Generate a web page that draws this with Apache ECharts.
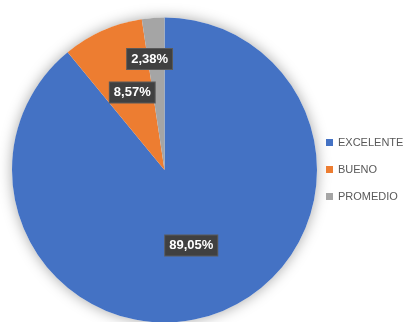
<!DOCTYPE html>
<html>
<head>
<meta charset="utf-8">
<script src="https://cdn.jsdelivr.net/npm/echarts@6/dist/echarts.min.js"></script>
<style>
html,body{margin:0;padding:0;background:#fff;}
#chart{width:403px;height:322px;}
</style>
</head>
<body>
<div id="chart"></div>
<script>
var categories = ['EXCELENTE', 'BUENO', 'PROMEDIO'];
var values = [89.05, 8.57, 2.38];
var colors = ['#4472C4', '#ED7D31', '#A5A5A5'];
var labelShift = [[0, 1], [0, -5], [-9, -32]];

var chart = echarts.init(document.getElementById('chart'), null, {renderer: 'canvas'});
var data = categories.map(function (c, i) {
  return {name: c, value: values[i], itemStyle: {color: colors[i]}};
});
chart.setOption({
  animation: false,
  backgroundColor: '#ffffff',
  legend: {
    orient: 'vertical',
    left: 321,
    top: 132,
    itemWidth: 7,
    itemHeight: 7,
    itemGap: 16,
    icon: 'rect',
    data: categories,
    textStyle: {fontFamily: 'Liberation Sans', fontSize: 11, color: '#595959'}
  },
  series: [
    {
      type: 'pie',
      silent: true,
      center: [164.5, 170],
      radius: 152.5,
      z: 1,
      label: {show: false},
      labelLine: {show: false},
      itemStyle: {color: '#ffffff', shadowBlur: 14, shadowColor: 'rgba(0,0,0,0.35)'},
      data: [{name: '', value: 1}],
      legendHoverLink: false
    },
    {
      type: 'pie',
      center: [164.5, 170],
      radius: 152.5,
      startAngle: 90,
      clockwise: true,
      z: 2,
      itemStyle: {borderWidth: 0},
      label: {
        show: true,
        position: 'inside',
        formatter: function (p) { return p.value.toFixed(2).replace('.', ',') + '%'; },
        fontFamily: 'Liberation Sans',
        fontWeight: 'bold',
        fontSize: 13,
        color: '#ffffff',
        backgroundColor: '#404040',
        borderColor: '#5a5a5a',
        borderWidth: 1,
        padding: [4, 4, 3, 4]
      },
      labelLayout: function (params) {
        var s = labelShift[params.dataIndex];
        return {dx: s[0], dy: s[1]};
      },
      labelLine: {show: false},
      data: data
    }
  ]
});
</script>
</body>
</html>
